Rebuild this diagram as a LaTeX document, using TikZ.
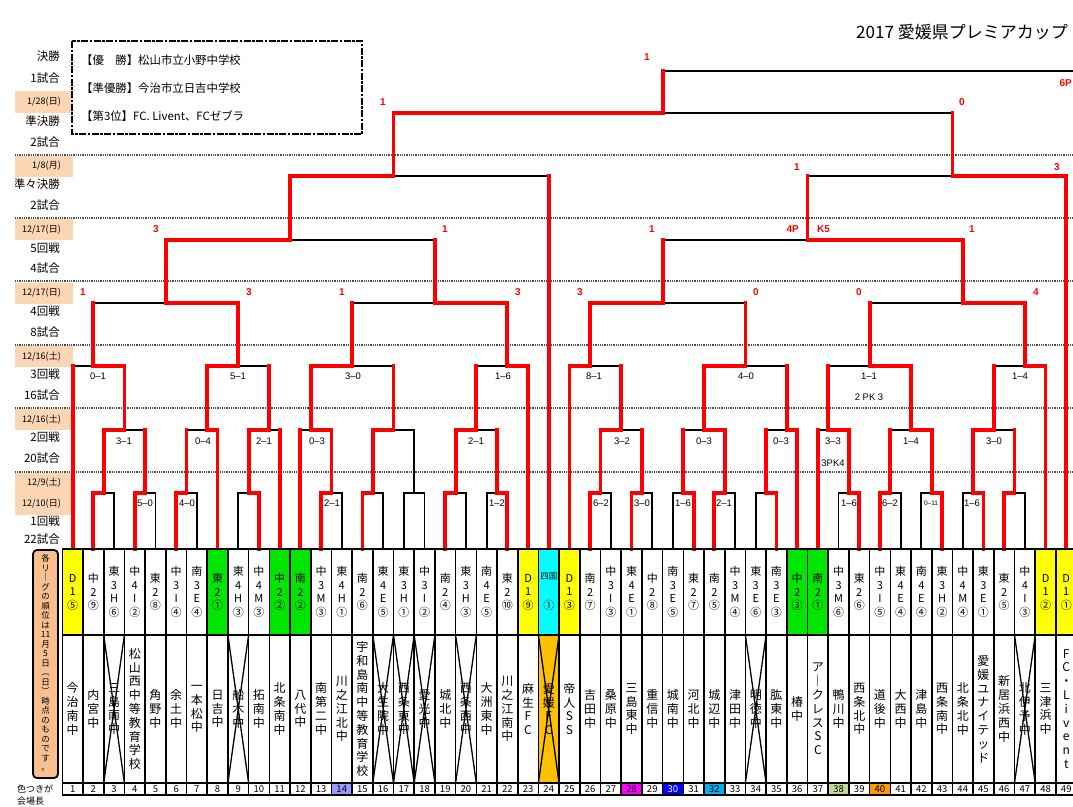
\documentclass[tikz,border=0pt]{standalone}
\usepackage{fontspec}
\setmainfont{Noto Sans CJK JP}
\newfontfamily\jpf{Noto Sans CJK JP}
\newfontfamily\lsf{Liberation Sans}
\definecolor{peach}{HTML}{FCD5B4}
\definecolor{orng}{HTML}{FABF8F}
\definecolor{grn}{HTML}{00E600}
\definecolor{yel}{HTML}{FFFF00}
\definecolor{cyn}{HTML}{00FFFF}
\definecolor{efc}{HTML}{FFC000}
\definecolor{nA}{HTML}{9999FF}
\definecolor{nB}{HTML}{FF00FF}
\definecolor{nC}{HTML}{0000FF}
\definecolor{nD}{HTML}{00B0F0}
\definecolor{nE}{HTML}{C4D79B}
\definecolor{nF}{HTML}{FF9900}
\def\vstEnd{\vstEndX}
\newcommand\vst[2]{\vbox{\baselineskip=#1\lineskiplimit=-20pt\lineskip=0pt\expandafter\vstA#2\vstEnd}}
\def\vstA#1{\ifx\vstEnd#1\else\hbox to 12pt{\hss#1\hss}\expandafter\vstA\fi}
\begin{document}
\begin{tikzpicture}[x=1pt,y=-1pt,
  blk/.style={line width=1.8pt,black,line cap=rect},
  rd/.style={line width=3.8pt,red,line cap=rect},
  dotln/.style={line width=1.5pt,black!70,dash pattern=on 0.9pt off 0.9pt},
  rowlbl/.style={anchor=east,inner sep=0pt,font=\jpf\fontsize{11.5}{12}\selectfont},
  datelbl/.style={anchor=east,inner sep=0pt,font=\jpf\fontsize{9}{10}\selectfont},
  rnum/.style={inner sep=0pt,text=red,font=\lsf\bfseries\fontsize{10}{11}\selectfont},
  sco/.style={inner sep=0pt,font=\lsf\fontsize{9.5}{10}\selectfont},
  grd/.style={line width=1.6pt,black},
]
\useasboundingbox (0,0) rectangle (1073,806);
\fill[white] (0,0) rectangle (1073,806);

% date boxes
\fill[peach] (15,91) rectangle (73,113);
\fill[peach] (15,156) rectangle (73,177);
\fill[peach] (15,219) rectangle (73,240);
\fill[peach] (15,283) rectangle (73,304);
\fill[peach] (15,346) rectangle (73,367);
\fill[peach] (15,409) rectangle (73,430);
\fill[peach] (15,473) rectangle (73,515);
\foreach \y in {155,218,281,345,408,472} \draw[dotln] (15,\y) -- (1073,\y);

\node[datelbl] (d1) at (61,102) {1/28(日)};
\node[datelbl] (d2) at (61,166) {1/8(月)};
\node[datelbl] (d3) at (61,230) {12/17(日)};
\node[datelbl] (d4) at (61,293) {12/17(日)};
\node[datelbl] (d5) at (61,357) {12/16(土)};
\node[datelbl] (d6) at (61,420) {12/16(土)};
\node[datelbl] (d7) at (61,483) {12/9(土)};
\node[datelbl] (d8) at (61,504) {12/10(日)};

\begin{scope}
\clip (15,0) rectangle (80,806);
\foreach \y/\t [count=\k] in {56/決勝,78/1試合,121/準決勝,142/2試合,184/準々決勝,205/2試合,248/5回戦,268/4試合,311/4回戦,332/8試合,374/3回戦,395/16試合,437/2回戦,458/20試合,521/1回戦,539/22試合}
  \node[rowlbl] (lbl\k) at (60,\y) {\t};
\end{scope}

% legend
\draw[line width=2.4pt,dash pattern=on 7pt off 1.5pt on 2.5pt off 1.5pt] (72,41) rectangle (362,134);
\begin{scope}[every node/.style={anchor=west,inner sep=0pt,font=\jpf\fontsize{11.4}{12}\selectfont}]
\node (w1) at (81,60) {【優　勝】松山市立小野中学校};
\node (w2) at (81,88) {【準優勝】今治市立日吉中学校};
\node (w3) at (81,116) {【第3位】FC. Livent、FCゼブラ};
\end{scope}
\node[anchor=west,inner sep=0pt,font=\jpf\fontsize{17}{18}\selectfont] (title) at (856,32) {2017 愛媛県プレミアカップ};

% bracket
\begin{scope}[x=20.7pt,xshift=62.3pt]
\foreach \a/\b in {1.5/2.5,3.5/4.5,5.5/6.5,8.5/9.5,12.5/13.5,14.5/15.5,16.5/17.5,18.5/19.5,20.5/21.5,25.5/26.5,27.5/28.5,29.5/30.5,31.5/32.5,33.5/34.5,37.5/38.5,39.5/40.5,41.5/42.5,43.5/44.5,45.5/46.5}
  \draw[blk] (\a,493) -- (\b,493);
\foreach \a/\b in {2/4,6/7.5,9/10.5,11.5/13,15/17,19/21,26/28,30/32,34/35.5,36.5/38,40/42,44/46}
  \draw[blk] (\a,430) -- (\b,430);
\foreach \a/\b in {0.5/3,7/10,12/16,20/22.5,24.5/27,31/35,37/41,45/47.5}
  \draw[blk] (\a,366) -- (\b,366);
\foreach \a/\b in {1.5/8.5,14/21.5,25.5/33,39/46.5}
  \draw[blk] (\a,303) -- (\b,303);
\draw[blk] (5,240) -- (18,240);
\draw[blk] (29,240) -- (43.5,240);
\draw[blk] (11,176) -- (23.5,176);
\draw[blk] (36,176) -- (48.5,176);
\draw[blk] (16,113) -- (43,113);
\draw[blk] (29,71) -- (50,71);
\foreach \p in {2.5,4.5,6.5,8.5,13.5,15.5,16.5,17.5,19.5,20.5,26.5,28.5,29.5,32.5,33.5,37.5,40.5,41.5,43.5,46.5}
  \draw[blk] (\p,549) -- (\p,493);
\draw[blk] (17,493) -- (17,430);
% red horizontals
\foreach \a/\b/\y in {1.5/2/493,3.5/4/493,5.5/6/493,9.5/9/493,12.5/13/493,14.5/15/493,18.5/19/493,21.5/21/493,25.5/26/493,27.5/28/493,30.5/30/493,31.5/32/493,34.5/34/493,38.5/38/493,39.5/40/493,42.5/42/493,44.5/44/493,45.5/46/493,
  2/3/430,7.5/7/430,9/10/430,13/12/430,15/16/430,19/20/430,26/27/430,32/31/430,35.5/35/430,38/37/430,42/41/430,44/45/430,
  3/1.5/366,7/8.5/366,12/14/366,22.5/21.5/366,24.5/25.5/366,31/33/366,41/39/366,47.5/46.5/366,
  8.5/5/303,21.5/18/303,25.5/29/303,46.5/43.5/303,
  5/11/240,43.5/36/240,11/16/176,48.5/43/176,16/29/113}
  \draw[rd] (\a,\y) -- (\b,\y);
% red verticals
\foreach \p/\a/\b in {0.5/549/366,1.5/549/493,3.5/549/493,5.5/549/493,7.5/549/430,9.5/549/493,10.5/549/430,11.5/549/430,12.5/549/493,14.5/549/493,18.5/549/493,21.5/549/493,22.5/549/366,23.5/549/176,24.5/549/366,25.5/549/493,27.5/549/493,30.5/549/493,31.5/549/493,34.5/549/493,35.5/549/430,36.5/549/430,38.5/549/493,39.5/549/493,42.5/549/493,44.5/549/493,45.5/549/493,47.5/549/366,48.5/549/176}
  \draw[rd] (\p,\a) -- (\p,\b);
\foreach \p in {2,4,6,9,13,15,19,21,26,28,30,32,34,38,40,42,44,46}
  \draw[rd] (\p,493) -- (\p,430);
\foreach \p in {3,7,10,12,16,20,27,31,35,37,41,45}
  \draw[rd] (\p,430) -- (\p,366);
\foreach \p in {1.5,8.5,14,21.5,25.5,33,39,46.5}
  \draw[rd] (\p,366) -- (\p,303);
\foreach \p in {5,18,29,43.5}
  \draw[rd] (\p,303) -- (\p,240);
\draw[rd] (11,240) -- (11,176);
\draw[rd] (36,240) -- (36,176);
\draw[rd] (16,176) -- (16,113);
\draw[rd] (43,176) -- (43,113);
\draw[rd] (29,113) -- (29,71);
\end{scope}

% red scores
\foreach \x/\y/\t [count=\k] in {647/57/1,383/102/1,962/102/0,797/167/1,1057/167/3,156/229/3,445/229/1,652/229/1,972/229/1,83/292/1,249/292/3,342/292/1,518/292/3,580/292/3,756/292/0,859/292/0,1036/292/4}
  \node[rnum] (rs\k) at (\x,\y) {\t};
\node[rnum,anchor=east] (pk1) at (799,229) {4P};
\node[rnum,anchor=west] (pk2) at (817,229) {K5};
\node[rnum,anchor=east] (fin) at (1072,83) {6P};

% black scores
\foreach \x/\t [count=\k] in {98/0–1,238/5–1,353/3–0,503/1–6,594/8–1,746/4–0,869/1–1,1020/1–4}
  \node[sco] (sc3\k) at (\x,376) {\t};
\node[sco] (pkA) at (869,397) {2 PK 3};
\foreach \x/\t [count=\k] in {124/3–1,203/0–4,264/2–1,317/0–3,476/2–1,622/3–2,704/0–3,781/0–3,833/3–3,911/1–4,994/3–0}
  \node[sco] (sc2\k) at (\x,441) {\t};
\node[sco] (pkB) at (833,463) {3PK4};
\foreach \x/\t [count=\k] in {145/5–0,187/4–0,332/2–1,497/1–2,601/6–2,642/3–0,683/1–6,724/2–1,849/1–6,890/6–2,972/1–6}
  \node[sco] (sc1\k) at (\x,503) {\t};
\node[sco,font=\lsf\fontsize{6.5}{7}\selectfont] (sc0) at (931,503) {0–11};

% team boxes
\begin{scope}[x=20.7pt,xshift=62.3pt]
\foreach \i in {1,23,25,48,49} \fill[yel] (\i-1,549) rectangle (\i,635);
\foreach \i in {8,11,12,36,37} \fill[grn] (\i-1,549) rectangle (\i,635);
\fill[cyn] (23,549) rectangle (24,635);
\fill[efc] (23,635) rectangle (24,783);
\foreach \i/\c in {14/nA,28/nB,30/nC,32/nD,38/nE,40/nF} \fill[\c] (\i-1,783) rectangle (\i,795);
\foreach \i/\rk/\nm in {1/D1⑤/今治南中,2/中2⑨/内宮中,3/東3H⑥/三島南中,4/中4I②/松山西中等教育学校,5/東2⑧/角野中,6/中3I④/余土中,7/南3E④/一本松中,8/東2①/日吉中,9/東4H③/船木中,10/中4M③/拓南中,11/中2②/北条南中,12/南2②/八代中,13/中3M③/南第二中,14/東4H①/川之江北中,15/南2⑥/宇和島南中等教育学校,16/東4E⑤/大生院中,17/東3H①/西条東中,18/中3I②/愛光中,19/南2④/城北中,20/東3H③/西条西中,21/南4E⑤/大洲東中,22/東2⑩/川之江南中,23/D1⑨/麻生FC,24/ /愛媛FC,25/D1③/帝人SS,26/南2⑦/吉田中,27/中3I③/桑原中,28/東4E①/三島東中,29/中2⑧/重信中,30/南3E⑤/城南中,31/東2⑦/河北中,32/南2⑤/城辺中,33/中3M④/津田中,34/東3E⑥/明徳中,35/南3E③/肱東中,36/中2③/椿中,37/南2①/ア｜クレスSC,38/中3M⑥/鴨川中,39/東2⑥/西条北中,40/中3I⑤/道後中,41/東4E④/大西中,42/南4E④/津島中,43/東3H②/西条南中,44/中4M④/北条北中,45/東3E①/愛媛ユナイテッド,46/東2⑤/新居浜西中,47/中4I③/北伊予中,48/D1②/三津浜中,49/D1①/FC・Livent}
{
  \node[font=\jpf\fontsize{11}{12}\selectfont,inner sep=0pt] (rk\i) at (\i-0.5,592) {\vst{13.5pt}{\rk}};
  \node[font=\jpf\fontsize{12}{13}\selectfont,inner sep=0pt] (nm\i) at (\i-0.5,709) {\vst{13.8pt}{\nm}};
  \node[font=\jpf\fontsize{9.5}{10}\selectfont,inner sep=0pt] (no\i) at (\i-0.5,789.5) {\ifnum\i=30 \color{white}\fi\i};
}
\node[font=\jpf\fontsize{8.5}{9}\selectfont,inner sep=0pt] (shk) at (23.5,576) {四国};
\node[font=\jpf\fontsize{11}{12}\selectfont,inner sep=0pt] (shk2) at (23.5,605) {①};
\foreach \i in {3,9,16,17,18,20,24,34,47}
  \draw[line width=1.3pt] (\i-1,635) -- (\i,783) (\i,635) -- (\i-1,783);
\draw[grd] (0,549) -- (49,549);
\draw[grd] (0,635) -- (49,635);
\draw[grd] (0,783) -- (49,783);
\draw[grd] (0,795) -- (49,795);
\foreach \k in {0,...,49} \draw[grd] (\k,549) -- (\k,795);
\end{scope}

% left note
\draw[line width=1.8pt,fill=orng,rounded corners=4pt] (33,550) rectangle (58,778);
\node[font=\jpf\fontsize{8.5}{9}\selectfont,inner sep=0pt] (note) at (45.5,663) {\vst{9.5pt}{各リ｜グの順位は{11}月5日︵日︶時点のものです。}};
\node[anchor=west,inner sep=0pt,font=\jpf\fontsize{9}{10}\selectfont] (c1) at (17,789) {色つきが};
\node[anchor=west,inner sep=0pt,font=\jpf\fontsize{9}{10}\selectfont] (c2) at (17,801) {会場長};
\end{tikzpicture}
\end{document}
